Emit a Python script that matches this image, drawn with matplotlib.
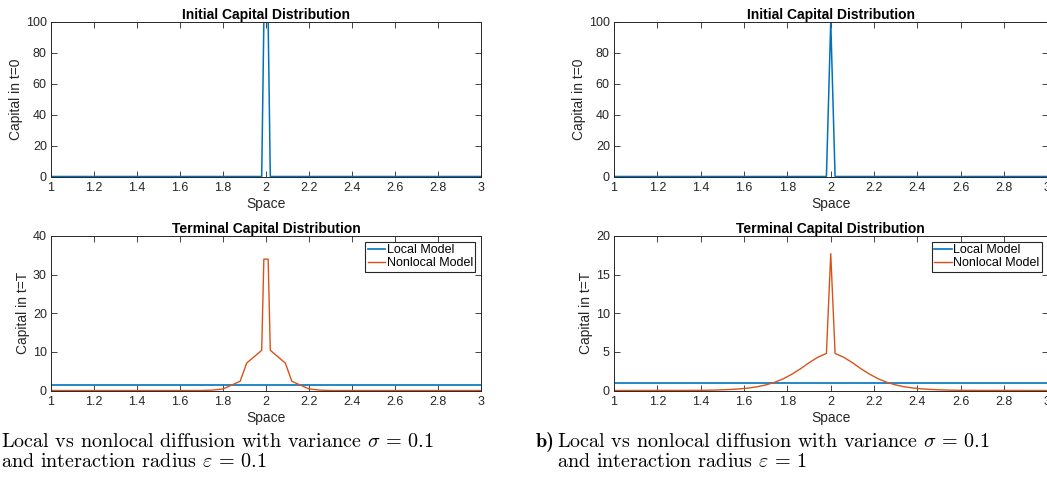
import matplotlib.pyplot as plt
import numpy as np

# --- data ---
# panel a) sigma = 0.1, eps = 0.1
init_x_a = [1.0, 1.98, 1.99, 2.00, 2.01, 2.02, 3.0]
init_y_a = [0, 0, 100, 100, 100, 0, 0]
local_x_a = [1.0, 3.0]
local_y_a = [1.45, 1.45]
nonloc_x_a = [1.0, 1.70, 1.75, 1.80, 1.88, 1.91, 1.98, 1.99, 2.01, 2.02,
              2.09, 2.12, 2.20, 2.25, 2.30, 3.0]
nonloc_y_a = [0, 0, 0.1, 0.4, 2.4, 7.1, 10.4, 34.0, 34.0, 10.4,
              7.1, 2.4, 0.4, 0.1, 0, 0]

# panel b) sigma = 0.1, eps = 1
init_x_b = [1.0, 1.98, 2.00, 2.02, 3.0]
init_y_b = [0, 0, 100, 0, 0]
local_x_b = [1.0, 3.0]
local_y_b = [1.0, 1.0]
nonloc_x_b = [1.0, 1.40, 1.46, 1.50, 1.54, 1.58, 1.62, 1.66, 1.70, 1.74,
              1.78, 1.82, 1.86, 1.90, 1.94, 1.98, 2.00, 2.02, 2.06, 2.10,
              2.14, 2.18, 2.22, 2.26, 2.30, 2.34, 2.38, 2.42, 2.46, 2.50,
              2.54, 2.60, 3.0]
nonloc_y_b = [0, 0.02, 0.05, 0.09, 0.14, 0.21, 0.32, 0.48, 0.72, 1.05,
              1.5, 2.1, 2.8, 3.6, 4.3, 4.8, 17.7, 4.8, 4.3, 3.6,
              2.8, 2.1, 1.5, 1.05, 0.72, 0.48, 0.32, 0.21, 0.14, 0.09,
              0.05, 0.02, 0]

xticks = [1, 1.2, 1.4, 1.6, 1.8, 2, 2.2, 2.4, 2.6, 2.8, 3]
xticklabels = ['1', '1.2', '1.4', '1.6', '1.8', '2', '2.2', '2.4', '2.6', '2.8', '3']

BLUE = '#0072BD'
ORANGE = '#D95319'
DARK = '#262626'

plt.rcParams['font.family'] = ['Liberation Sans', 'DejaVu Sans']
plt.rcParams['mathtext.fontset'] = 'cm'

W, H = 1047, 496
fig = plt.figure(figsize=(W / 100, H / 100), dpi=100)


def px_axes(x0, x1, ytop, ybot):
    return fig.add_axes([x0 / W, 1 - ybot / H, (x1 - x0) / W, (ybot - ytop) / H])


def style(ax, ylim, yticks, ylabel, title):
    ax.set_xlim(1, 3)
    ax.set_ylim(*ylim)
    ax.set_xticks(xticks)
    ax.set_xticklabels(xticklabels)
    ax.set_yticks(yticks)
    ax.tick_params(direction='in', top=True, right=True, length=4, width=0.6,
                   color=DARK, labelcolor=DARK, labelsize=9)
    ax.tick_params(axis='x', pad=4)
    ax.tick_params(axis='y', pad=3)
    for s in ax.spines.values():
        s.set_color(DARK)
        s.set_linewidth(0.7)
    ax.set_xlabel('Space', fontsize=10, color=DARK, labelpad=2)
    ax.set_ylabel(ylabel, fontsize=10, color=DARK, labelpad=2)
    ax.set_title(title, fontsize=10, fontweight='bold', pad=2)


def panel(x0, x1, ix, iy, lx, ly, nx, ny, ymax2, yticks2):
    ax1 = px_axes(x0, x1, 21.5, 176.5)
    ax1.plot(ix, iy, color=BLUE, lw=1.1)
    style(ax1, (0, 100), [0, 20, 40, 60, 80, 100], 'Capital in t=0',
          'Initial Capital Distribution')

    ax2 = px_axes(x0, x1, 236, 390.5)
    ax2.plot(lx, ly, color=BLUE, lw=1.2, label='Local Model')
    ax2.plot(nx, ny, color=ORANGE, lw=1.0, label='Nonlocal Model')
    style(ax2, (0, ymax2), yticks2, 'Capital in t=T',
          'Terminal Capital Distribution')
    leg = ax2.legend(loc='upper right', fontsize=9, fancybox=False,
                     framealpha=1, edgecolor=DARK, borderpad=0.2,
                     labelspacing=0.1, handlelength=1.4, handletextpad=0.1,
                     borderaxespad=0.45)
    leg.get_frame().set_linewidth(0.8)


panel(51, 481, init_x_a, init_y_a, local_x_a, local_y_a, nonloc_x_a, nonloc_y_a,
      40, [0, 10, 20, 30, 40])
panel(614, 1047.5, init_x_b, init_y_b, local_x_b, local_y_b, nonloc_x_b, nonloc_y_b,
      20, [0, 5, 10, 15, 20])

FS = 14.5
cap = dict(fontsize=FS, family='cmr10', color='black', va='baseline')
fig.text(1 / W, 1 - 447 / H, r'Local vs nonlocal diffusion with variance $\sigma$ = 0.1', **cap)
fig.text(1 / W, 1 - 467 / H, r'and interaction radius $\varepsilon$ = 0.1', **cap)
fig.text(536 / W, 1 - 447 / H, 'b)', fontsize=FS, family='cmb10', va='baseline')
fig.text(557 / W, 1 - 447 / H, r'Local vs nonlocal diffusion with variance $\sigma$ = 0.1', **cap)
fig.text(557 / W, 1 - 467 / H, r'and interaction radius $\varepsilon$ = 1', **cap)

fig.savefig('out.png', dpi=100)
